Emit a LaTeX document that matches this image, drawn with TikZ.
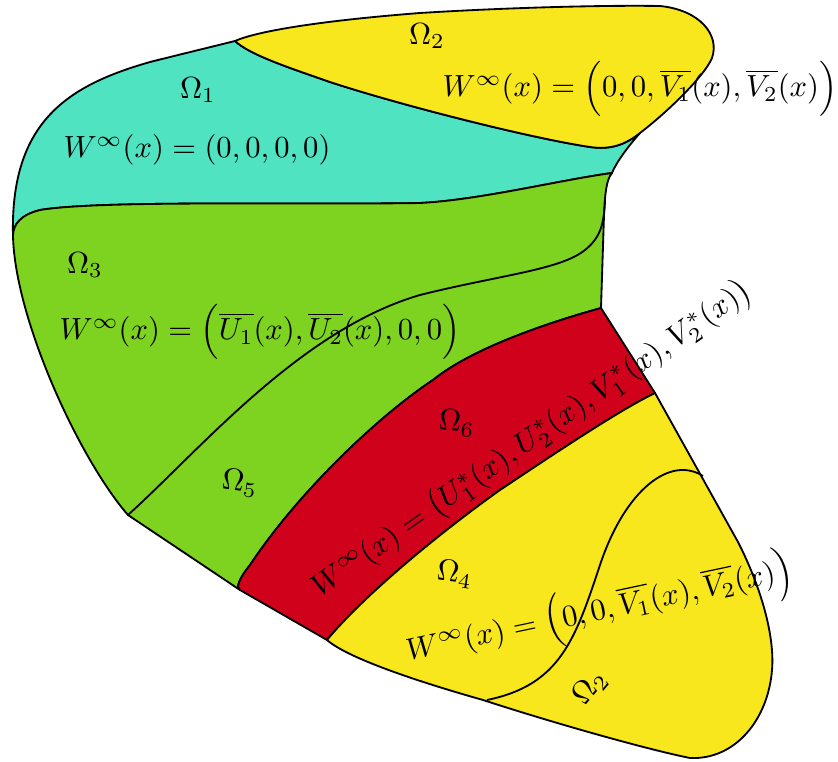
\documentclass[tikz,border=0pt]{standalone}
\usepackage{amsmath,amssymb}
\usepackage{xcolor}
\usepackage{tikz}
\definecolor{omegacyan}{RGB}{80,227,194}
\definecolor{omegayellow}{RGB}{248,231,28}
\definecolor{omegagreen}{RGB}{126,211,33}
\definecolor{omegared}{RGB}{208,2,27}

\begin{document}
\begin{tikzpicture}[
      x=0.327pt,y=-0.327pt,
      region/.style={draw=black,line width=0.6pt,line join=round},
      border/.style={draw=black,line width=0.6pt},
      label/.style={inner sep=0pt}]

    \useasboundingbox (0,0) rectangle (838,762);

    % Omega_1
    \path[region,fill=omegacyan] (13,236) .. controls (10,120) and (70,85) .. (150,62)
      .. controls (190,52) and (215,46) .. (235,41)
      .. controls (250,55) and (290,68) .. (330,82)
      .. controls (400,105) and (530,138) .. (590,147)
      .. controls (610,150) and (625,145) .. (640,133)
      .. controls (625,150) and (615,165) .. (612,173)
      .. controls (560,180) and (480,200) .. (420,203)
      .. controls (300,205) and (100,200) .. (40,210)
      .. controls (20,215) and (13,225) .. (13,236) -- cycle;

    % Omega_2 (top)
    \path[region,fill=omegayellow] (235,41) .. controls (260,30) and (330,20) .. (420,13)
      .. controls (500,8) and (600,5) .. (660,6)
      .. controls (700,10) and (720,35) .. (712,58)
      .. controls (705,75) and (670,110) .. (640,133)
      .. controls (625,145) and (610,150) .. (590,147)
      .. controls (530,138) and (400,105) .. (330,82)
      .. controls (290,68) and (250,55) .. (235,41) -- cycle;

    % Omega_3 and Omega_5
    \path[region,fill=omegagreen] (13,236) .. controls (13,225) and (20,215) .. (40,210)
      .. controls (100,200) and (300,205) .. (420,203)
      .. controls (480,200) and (560,180) .. (612,173)
      .. controls (606,180) and (605,195) .. (604,215)
      -- (601,308)
      .. controls (540,325) and (470,350) .. (433,380)
      .. controls (380,415) and (300,490) .. (250,565)
      .. controls (238,580) and (236,588) .. (240,590)
      -- (128,515)
      .. controls (80,460) and (15,320) .. (13,236) -- cycle;
    \draw[border] (128,515) .. controls (200,450) and (300,330) .. (420,295)
      .. controls (500,275) and (560,270) .. (585,250)
      .. controls (600,238) and (604,225) .. (605,200);

    % Omega_6
    \path[region,fill=omegared] (601,308)
      .. controls (540,325) and (470,350) .. (433,380)
      .. controls (380,415) and (300,490) .. (250,565)
      .. controls (238,580) and (236,588) .. (240,590)
      -- (327,640)
      .. controls (360,600) and (430,540) .. (500,490)
      .. controls (560,450) and (620,410) .. (655,393) -- cycle;

    % Omega_4 and Omega_2 (bottom)
    \path[region,fill=omegayellow] (327,640)
      .. controls (360,600) and (430,540) .. (500,490)
      .. controls (560,450) and (620,410) .. (655,393)
      -- (738,542)
      .. controls (760,585) and (775,635) .. (772,670)
      .. controls (768,720) and (735,760) .. (690,758)
      .. controls (650,750) and (560,725) .. (483,700)
      .. controls (430,685) and (350,660) .. (327,640) -- cycle;
    \draw[border] (487,700) .. controls (560,685) and (575,640) .. (600,565)
      .. controls (625,490) and (670,455) .. (703,476);

    \node[label] (o1) at (198,90) {$\Omega_1$};
    \node[label] (w1) at (197,150) {$W^\infty(x)=(0,0,0,0)$};
    \node[label] (o2) at (427,36) {$\Omega_2$};
    \node[label] (w2) at (640,89)
      {$W^\infty(x)=\Big(0,0,\overline{V_1}(x),\overline{V_2}(x)\Big)$};
    \node[label] (o3) at (85,265) {$\Omega_3$};
    \node[label] (w3) at (260,332)
      {$W^\infty(x)=\Big(\overline{U_1}(x),\overline{U_2}(x),0,0\Big)$};
    \node[label,rotate=-8] (o5) at (240,483) {$\Omega_5$};
    \node[label,rotate=-5] (o6) at (457,423) {$\Omega_6$};
    \node[label,rotate=35] (w6) at (532,440)
      {$W^\infty(x)=\big(U_1^*(x),U_2^*(x),V_1^*(x),V_2^*(x)\big)$};
    \node[label,rotate=-8] (o4) at (455,574) {$\Omega_4$};
    \node[label,rotate=12] (w4) at (600,612)
      {$W^\infty(x)=\Big(0,0,\overline{V_1}(x),\overline{V_2}(x)\Big)$};
    \node[label,rotate=50] (o2b) at (590,688) {$\Omega_2$};
  \end{tikzpicture}
\end{document}
